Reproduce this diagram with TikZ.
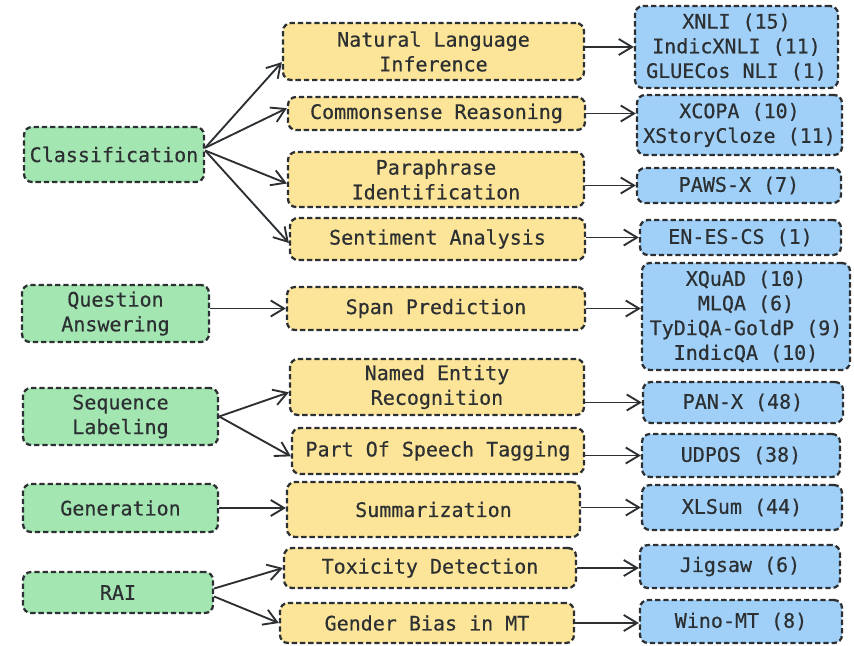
\documentclass[tikz,border=0pt]{standalone}
\usepackage{fontspec}
\setmonofont{DejaVu Sans Mono}[FakeBold=0.5]
\usepackage{xcolor}
\usetikzlibrary{arrows.meta,positioning}

\definecolor{taskgreen}{RGB}{164,230,178}
\definecolor{subyellow}{RGB}{252,228,152}
\definecolor{databblue}{RGB}{160,208,248}
\definecolor{inkgray}{RGB}{44,48,50}

\begin{document}
\begin{tikzpicture}[
    x=0.75pt,
    y=-0.75pt,
    font=\ttfamily\fontsize{15}{18.5}\selectfont,
    text=inkgray,
    box/.style={
        draw=inkgray,
        line width=1.7pt,
        dash pattern=on 4pt off 2.2pt,
        rounded corners=6pt,
        inner sep=0pt,
        align=center
    },
    task/.style={box, fill=taskgreen},
    sub/.style={box, fill=subyellow},
    data/.style={box, fill=databblue},
    arr/.style={-{Straight Barb[length=10pt,width=12pt,line width=1.4pt]}, draw=inkgray, line width=1.4pt}
]
\useasboundingbox (0,0) rectangle (854,646);

% tasks
\node[task, minimum width=135pt, minimum height=41.25pt] (cls) at (114,154.5) {Classification};
\node[task, minimum width=140.25pt, minimum height=42.75pt] (qa) at (115.5,313.5) {Question\\Answering};
\node[task, minimum width=146.25pt, minimum height=42.75pt] (seq) at (120.5,416.5) {Sequence\\Labeling};
\node[task, minimum width=146.25pt, minimum height=36pt] (gen) at (120.5,508) {Generation};
\node[task, minimum width=142.5pt, minimum height=30.75pt] (rai) at (118,592.5) {RAI};

% subtasks
\node[sub, minimum width=225.75pt, minimum height=42.75pt] (nli) at (433.5,51.5) {Natural Language\\Inference};
\node[sub, minimum width=222.75pt, minimum height=24.75pt] (csr) at (436.5,113.5) {Commonsense Reasoning};
\node[sub, minimum width=222pt, minimum height=41.25pt] (para) at (436,179.5) {Paraphrase\\Identification};
\node[sub, minimum width=221.25pt, minimum height=31.5pt] (sent) at (437.5,239) {Sentiment Analysis};
\node[sub, minimum width=223.5pt, minimum height=32.25pt] (span) at (436,308.5) {Span Prediction};
\node[sub, minimum width=220.5pt, minimum height=42pt] (ner) at (437,387) {Named Entity\\Recognition};
\node[sub, minimum width=219pt, minimum height=34.5pt] (pos) at (438,451) {Part Of Speech Tagging};
\node[sub, minimum width=219.75pt, minimum height=41.25pt] (summ) at (433.5,509.5) {Summarization};
\node[sub, minimum width=219pt, minimum height=30pt] (tox) at (430,568) {Toxicity Detection};
\node[sub, minimum width=220.5pt, minimum height=30pt] (bias) at (427,623) {Gender Bias in MT};

% datasets
\node[data, minimum width=152.25pt, minimum height=61.5pt] (xnli) at (736.5,47) {XNLI (15)\\IndicXNLI (11)\\GLUECos NLI (1)};
\node[data, minimum width=153.75pt, minimum height=45pt] (xcopa) at (739.5,125) {XCOPA (10)\\XStoryCloze (11)};
\node[data, minimum width=153pt, minimum height=26.25pt] (paws) at (739,185.5) {PAWS-X (7)};
\node[data, minimum width=150.75pt, minimum height=26.25pt] (enes) at (740.5,237.5) {EN-ES-CS (1)};
\node[data, minimum width=156pt, minimum height=80.25pt] (qads) at (746,316.5) {XQuAD (10)\\MLQA (6)\\TyDiQA-GoldP (9)\\IndicQA (10)};
\node[data, minimum width=150pt, minimum height=30.75pt] (panx) at (743,402.5) {PAN-X (48)};
\node[data, minimum width=148.5pt, minimum height=32.25pt] (udpos) at (741,455.5) {UDPOS (38)};
\node[data, minimum width=150pt, minimum height=33.75pt] (xlsum) at (742,507.5) {XLSum (44)};
\node[data, minimum width=150pt, minimum height=32.25pt] (jig) at (740,566.5) {Jigsaw (6)};
\node[data, minimum width=151.5pt, minimum height=32.25pt] (wino) at (741,621.5) {Wino-MT (8)};

% task -> subtask
\draw[arr] ([yshift=5pt]cls.east) -- ([yshift=-8pt]nli.west);
\draw[arr] ([yshift=5pt]cls.east) -- ([yshift=4pt]csr.west);
\draw[arr] ([yshift=3pt]cls.east) -- ([yshift=-3pt]para.west);
\draw[arr] ([yshift=3pt]cls.east) -- ([yshift=-3pt]sent.west);
\draw[arr] (qa.east |- span.west) -- (span.west);
\draw[arr] (seq.east) -- ([yshift=-4pt]ner.west);
\draw[arr] (seq.east) -- ([yshift=-4pt]pos.west);
\draw[arr] (gen.east) -- (summ.west |- gen.east);
\draw[arr] ([yshift=3pt]rai.east) -- (tox.west);
\draw[arr] ([yshift=-3pt]rai.east) -- (bias.west);

% subtask -> dataset
\draw[arr] (nli.east |- xnli.west) -- (xnli.west);
\draw[arr] (csr.east) -- (xcopa.west |- csr.east);
\draw[arr] (para.east |- paws.west) -- (paws.west);
\draw[arr] (sent.east |- enes.west) -- (enes.west);
\draw[arr] (span.east) -- (qads.west |- span.east);
\draw[arr] (ner.east |- panx.west) -- (panx.west);
\draw[arr] (pos.east |- udpos.west) -- (udpos.west);
\draw[arr] (summ.east |- xlsum.west) -- (xlsum.west);
\draw[arr] (tox.east) -- (jig.west |- tox.east);
\draw[arr] (bias.east) -- (wino.west |- bias.east);

\end{tikzpicture}
\end{document}
